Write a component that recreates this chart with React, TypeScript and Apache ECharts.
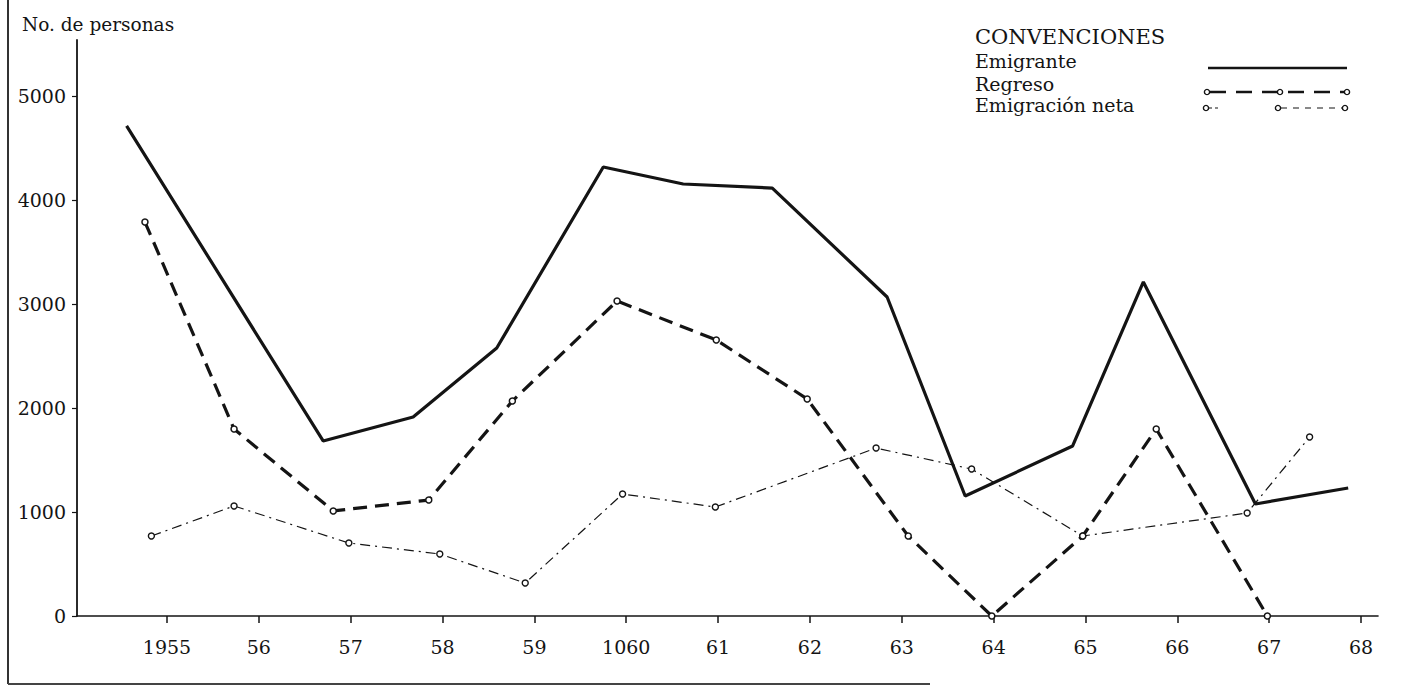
import React, { useEffect, useRef } from "react";
import * as echarts from "echarts";

// Years shown on the x axis (the original prints "1060" for 1960)
const yearTicks = [1955, 1956, 1957, 1958, 1959, 1960, 1961, 1962, 1963, 1964, 1965, 1966, 1967, 1968];
const yearLabels = ["1955", "56", "57", "58", "59", "1060", "61", "62", "63", "64", "65", "66", "67", "68"];
const valueTicks = [0, 1000, 2000, 3000, 4000, 5000];

// Series (x = position in years, y = persons)
const emigranteX = [1954.56, 1956.7, 1957.68, 1958.59, 1959.75, 1960.62, 1961.59, 1962.84, 1963.69, 1964.86, 1965.63, 1966.85, 1967.86];
const emigranteY = [4712, 1683, 1913, 2577, 4317, 4154, 4115, 3067, 1154, 1635, 3212, 1077, 1231];

const regresoX = [1954.76, 1955.73, 1956.81, 1957.85, 1958.76, 1959.9, 1960.98, 1961.97, 1963.07, 1963.98, 1964.97, 1965.77, 1966.98];
const regresoY = [3788, 1798, 1010, 1115, 2067, 3029, 2654, 2087, 769, 0, 769, 1798, 0];

const netaX = [1954.83, 1955.73, 1956.98, 1957.97, 1958.9, 1959.96, 1960.97, 1962.72, 1963.76, 1964.97, 1966.76, 1967.44];
const netaY = [769, 1058, 702, 596, 317, 1173, 1048, 1615, 1413, 769, 990, 1721];

const FONT = "DejaVu Serif";
const INK = "#141414";

function pairs(xs: number[], ys: number[]) {
  return xs.map((x, i) => [x, ys[i]]);
}

export default function App() {
  const ref = useRef<HTMLDivElement>(null);
  useEffect(() => {
    if (!ref.current) return;
    const chart = echarts.init(ref.current, undefined, { renderer: "svg" });
    const gridLeft = 77;
    const gridRight = 1378;
    const pxPerYear = 91.85;
    const xMin = 1955 - (167 - gridLeft) / pxPerYear;
    const xMax = xMin + (gridRight - gridLeft) / pxPerYear;
    const gridTop = 40;
    const axisY = 616;
    const yMax = ((axisY - gridTop) / 104) * 1000;

    const legendText = (text: string, y: number, size: number) => ({
      type: "text",
      left: 975,
      top: y - size / 2 - 2,
      style: { text, fontFamily: FONT, fontSize: size, fill: INK },
    });

    chart.setOption({
      animation: false,
      backgroundColor: "#fff",
      grid: { left: gridLeft, top: gridTop, width: gridRight - gridLeft, height: axisY - gridTop, containLabel: false },
      xAxis: {
        type: "value",
        min: xMin,
        max: xMax,
        splitLine: { show: false },
        axisLine: { show: true, lineStyle: { color: INK, width: 1.6 } },
        axisTick: { show: true, length: 7, lineStyle: { color: INK, width: 1.5 }, customValues: yearTicks },
        axisLabel: {
          customValues: yearTicks,
          margin: 21,
          fontFamily: FONT,
          fontSize: 19,
          color: INK,
          formatter: (v: number) => {
            const i = yearTicks.indexOf(Math.round(v));
            return i >= 0 ? yearLabels[i] : "";
          },
        },
      },
      yAxis: {
        type: "value",
        min: 0,
        max: yMax,
        interval: 1000,
        name: "No. de personas",
        nameLocation: "end",
        nameGap: 0,
        nameTextStyle: { fontFamily: FONT, fontSize: 18.5, color: INK, align: "left", padding: [0, 0, 6, -55] },
        splitLine: { show: false },
        axisLine: { show: true, lineStyle: { color: INK, width: 1.8 } },
        axisTick: { show: true, length: 5, lineStyle: { color: INK, width: 1.2 }, customValues: valueTicks },
        axisLabel: {
          customValues: valueTicks,
          margin: 11,
          fontFamily: FONT,
          fontSize: 19,
          color: INK,
          formatter: (v: number) => (v % 1000 === 0 ? String(v) : ""),
        },
      },
      series: [
        {
          name: "Emigrante",
          type: "line",
          data: pairs(emigranteX, emigranteY),
          showSymbol: false,
          symbol: "none",
          lineStyle: { color: INK, width: 3.2 },
          z: 3,
        },
        {
          name: "Regreso",
          type: "line",
          data: pairs(regresoX, regresoY),
          symbol: "circle",
          symbolSize: 6,
          itemStyle: { color: "#fff", borderColor: INK, borderWidth: 1.5 },
          lineStyle: { color: INK, width: 3.2, type: [14, 8] },
          z: 4,
        },
        {
          name: "Emigración neta",
          type: "line",
          data: pairs(netaX, netaY),
          symbol: "circle",
          symbolSize: 6,
          itemStyle: { color: "#fff", borderColor: INK, borderWidth: 1.4 },
          lineStyle: { color: INK, width: 1.2, type: [10, 5, 2, 5] },
          z: 5,
        },
      ],
      graphic: [
        // scanned page frame
        { type: "line", shape: { x1: 8, y1: 0, x2: 8, y2: 684 }, style: { stroke: "#333", lineWidth: 2 } },
        { type: "line", shape: { x1: 8, y1: 684, x2: 930, y2: 684 }, style: { stroke: "#444", lineWidth: 2 } },
        // legend
        legendText("CONVENCIONES", 39, 21),
        legendText("Emigrante", 63, 19),
        legendText("Regreso", 86, 19),
        legendText("Emigración neta", 107, 19),
        { type: "line", shape: { x1: 1208, y1: 68, x2: 1347, y2: 68 }, style: { stroke: INK, lineWidth: 2.6 } },
        { type: "line", shape: { x1: 1210, y1: 92, x2: 1345, y2: 92 }, style: { stroke: INK, lineWidth: 2.6, lineDash: [16, 10] } },
        { type: "circle", shape: { cx: 1207, cy: 92, r: 2.6 }, style: { fill: "#fff", stroke: INK, lineWidth: 1.4 } },
        { type: "circle", shape: { cx: 1280, cy: 92, r: 2.6 }, style: { fill: "#fff", stroke: INK, lineWidth: 1.4 } },
        { type: "circle", shape: { cx: 1347, cy: 92, r: 2.6 }, style: { fill: "#fff", stroke: INK, lineWidth: 1.4 } },
        { type: "line", shape: { x1: 1209, y1: 108, x2: 1219, y2: 108 }, style: { stroke: INK, lineWidth: 1.1, lineDash: [3, 3] } },
        { type: "line", shape: { x1: 1281, y1: 108, x2: 1343, y2: 108 }, style: { stroke: INK, lineWidth: 1.2, lineDash: [6, 6] } },
        { type: "circle", shape: { cx: 1206, cy: 108, r: 2.6 }, style: { fill: "#fff", stroke: INK, lineWidth: 1.4 } },
        { type: "circle", shape: { cx: 1278, cy: 108, r: 2.6 }, style: { fill: "#fff", stroke: INK, lineWidth: 1.4 } },
        { type: "circle", shape: { cx: 1345, cy: 108, r: 2.6 }, style: { fill: "#fff", stroke: INK, lineWidth: 1.4 } },
      ],
    });
    return () => chart.dispose();
  }, []);
  return (
    <div
      ref={ref}
      style={{ position: "fixed", left: 0, top: 0, width: 1404, height: 690, background: "#fff" }}
    />
  );
}
